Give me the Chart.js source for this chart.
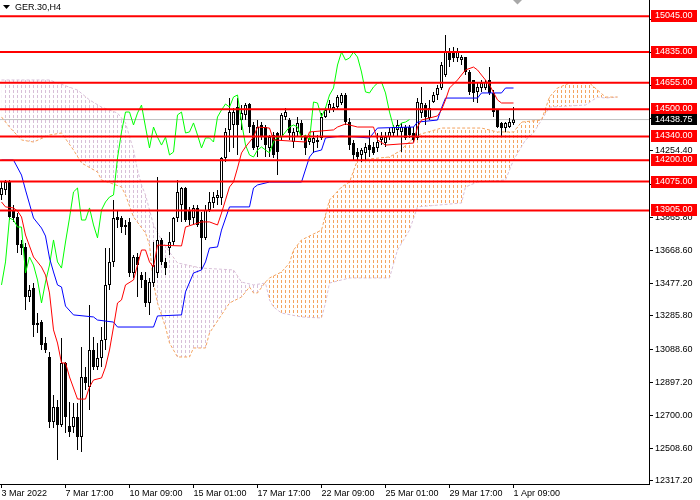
<!DOCTYPE html>
<html>
<head>
<meta charset="utf-8">
<script src="https://cdn.jsdelivr.net/npm/chart.js@4.4.0/dist/chart.umd.min.js"></script>
<style>
  html, body { margin: 0; padding: 0; background: #fff; }
</style>
</head>
<body>
<canvas id="chart" width="700" height="500"></canvas>
<script>
const symbolTitle = "GER.30,H4";

// time axis labels (bar index of each label)
const timeLabelBars = [0, 16, 32, 48, 64, 80, 96, 112, 128];
const timeLabels = ["3 Mar 2022", "7 Mar 17:00", "10 Mar 09:00", "15 Mar 01:00", "17 Mar 17:00",
  "22 Mar 09:00", "25 Mar 01:00", "29 Mar 17:00", "1 Apr 09:00"];

// price axis tick labels
const priceTicks = [12317.2, 12508.6, 12700.0, 12897.2, 13088.6, 13285.8, 13477.2, 13668.6,
  13865.8, 14057.2, 14254.4, 14445.8, 14637.2, 14834.4, 15025.8];

// horizontal support / resistance levels
const levels = [15045, 14835, 14655, 14500, 14340, 14200, 14075, 13905];
const lastPrice = 14438.75;

// H4 candles
const open = [
  13996, 14025, 14072, 13908, 13867, 13708, 13691, 13397, 13450, 13245,
  13250, 13127, 13045, 12664, 12752, 12646, 13010, 12640, 12634, 12693,
  12575, 12928, 12869, 13086, 12986, 13039, 13145, 13468, 13603, 13867,
  13861, 13820, 13838, 13538, 13632, 13526, 13497, 13362, 13479, 13538,
  13732, 13603, 13685, 13720, 13861, 13937, 14037, 13908, 13861, 13920,
  13849, 13744, 13908, 13949, 13978, 13978, 14213, 14378, 14407, 14512,
  14436, 14466, 14530, 14407, 14278, 14407, 14395, 14272, 14348, 14360,
  14336, 14454, 14436, 14307, 14366, 14419, 14336, 14307, 14301, 14319,
  14331, 14454, 14495, 14495, 14512, 14536, 14583, 14424, 14301, 14248,
  14231, 14243, 14289, 14278, 14272, 14319, 14301, 14336, 14360, 14378,
  14366, 14395, 14395, 14360, 14331, 14477, 14524, 14448, 14542, 14583,
  14624, 14700, 14835, 14835, 14800, 14788, 14806, 14718, 14671, 14601,
  14624, 14624, 14671, 14595, 14495, 14419, 14389, 14395, 14419
];
const high = [
  14072, 14084, 14084, 13937, 13890, 13732, 13714, 13468, 13479, 13303,
  13262, 13162, 13074, 12822, 12793, 13157, 13016, 12781, 12775, 12775,
  13104, 12986, 13350, 13162, 13127, 13221, 13685, 13685, 13967, 13908,
  13873, 13849, 13861, 13644, 13656, 13544, 13544, 13509, 13720, 14102,
  13744, 13626, 13779, 13867, 14084, 14043, 14043, 13926, 13937, 13937,
  13896, 13937, 14014, 14014, 14025, 14219, 14389, 14565, 14507, 14565,
  14524, 14536, 14536, 14424, 14436, 14424, 14407, 14348, 14366, 14366,
  14477, 14507, 14448, 14389, 14454, 14436, 14348, 14348, 14366, 14348,
  14477, 14512, 14554, 14536, 14583, 14595, 14595, 14448, 14319, 14272,
  14272, 14301, 14378, 14307, 14360, 14366, 14366, 14389, 14407, 14436,
  14419, 14407, 14407, 14395, 14565, 14630, 14536, 14554, 14601, 14642,
  14777, 14935, 14859, 14865, 14859, 14818, 14806, 14730, 14671, 14653,
  14671, 14671, 14747, 14612, 14495, 14424, 14424, 14448, 14512
];
const low = [
  13967, 13996, 13849, 13838, 13656, 13644, 13321, 13368, 13162, 13186,
  13086, 13069, 12628, 12628, 12440, 12634, 12599, 12575, 12599, 12499,
  12487, 12851, 12734, 12969, 12969, 12986, 13086, 13438, 13573, 13802,
  13773, 13761, 13515, 13509, 13397, 13450, 13339, 13292, 13456, 13509,
  13585, 13526, 13644, 13702, 13838, 13838, 13838, 13820, 13820, 13808,
  13556, 13732, 13896, 13920, 13937, 13937, 14190, 14248, 14272, 14231,
  14378, 14436, 14360, 14260, 14219, 14319, 14219, 14219, 14213, 14113,
  14319, 14436, 14319, 14272, 14336, 14319, 14231, 14289, 14243, 14272,
  14319, 14448, 14477, 14483, 14495, 14524, 14407, 14260, 14201, 14201,
  14190, 14201, 14219, 14231, 14248, 14289, 14278, 14319, 14336, 14336,
  14248, 14319, 14331, 14307, 14319, 14448, 14407, 14436, 14536, 14554,
  14612, 14689, 14747, 14777, 14777, 14759, 14700, 14583, 14542, 14536,
  14601, 14612, 14583, 14454, 14389, 14336, 14366, 14389, 14407
];
const close = [
  14037, 14072, 13867, 13861, 13702, 13685, 13397, 13438, 13233, 13233,
  13115, 13086, 12664, 12752, 12646, 13010, 12693, 12605, 12693, 12575,
  12928, 12892, 13086, 12986, 13039, 13145, 13468, 13603, 13861, 13849,
  13808, 13808, 13538, 13632, 13585, 13497, 13362, 13485, 13585, 13732,
  13603, 13567, 13720, 13861, 14014, 14037, 13849, 13849, 13920, 13820,
  13744, 13908, 13955, 13984, 13996, 14213, 14366, 14483, 14483, 14407,
  14477, 14524, 14395, 14272, 14395, 14336, 14289, 14336, 14231, 14248,
  14466, 14483, 14360, 14366, 14419, 14348, 14272, 14331, 14331, 14307,
  14454, 14495, 14530, 14512, 14571, 14583, 14424, 14289, 14231, 14219,
  14260, 14278, 14260, 14243, 14307, 14336, 14336, 14366, 14395, 14407,
  14395, 14331, 14348, 14319, 14542, 14536, 14454, 14507, 14583, 14624,
  14759, 14835, 14788, 14800, 14835, 14806, 14718, 14601, 14595, 14630,
  14653, 14659, 14595, 14483, 14395, 14389, 14419, 14424, 14438.75
];

// Ichimoku lines (bar index, price)
const tenkanBar = [0, 1, 3, 4, 5, 6, 8, 9, 10, 11, 12, 13, 14, 15, 16, 17, 18, 19, 21, 22, 23, 25, 26, 27, 28, 29, 30, 31, 33, 35,
  36, 37, 38, 39, 45, 46, 50, 52, 54, 55, 56, 57, 58, 59, 60, 61, 63, 64, 67, 68, 76, 77, 83, 84, 86, 89, 93, 94, 96, 103,
  104, 105, 109, 110, 111, 112, 114, 116, 118, 119, 120, 122, 124, 125, 128];
const tenkanVal = [13955, 13926, 13920, 13902, 13867, 13761, 13632, 13603, 13573, 13526, 13421, 13204, 13127, 13010, 13010, 12928,
  12863, 12798, 12798, 12869, 12910, 12922, 12986, 13086, 13221, 13362, 13380, 13468, 13497, 13673,
  13673, 13603, 13573, 13702, 13697, 13808, 13838, 13838, 13820, 13890, 13967, 14043, 14072, 14154, 14243, 14278,
  14336, 14395, 14389, 14319, 14307, 14366, 14378, 14395, 14413, 14395, 14395, 14319, 14289, 14301,
  14395, 14436, 14460, 14495, 14554, 14624, 14671, 14730, 14747, 14730, 14700, 14642, 14554, 14536, 14536];

const kijunBar = [0, 3, 5, 6, 8, 10, 11, 12, 13, 14, 15, 16, 18, 23, 24, 28, 29, 38, 39, 45, 46, 48, 50, 51, 52, 54, 55, 57, 62,
  63, 64, 67, 75, 77, 78, 80, 81, 85, 92, 94, 103, 104, 109, 110, 111, 119, 120, 125, 126, 128];
const kijunVal = [14201, 14201, 14113, 14025, 13861, 13802, 13755, 13626, 13544, 13468, 13456, 13344, 13292, 13280, 13262,
  13250, 13221, 13221, 13286, 13292, 13427, 13538, 13556, 13603, 13685, 13691, 13790, 13926, 13926,
  14037, 14055, 14072, 14072, 14219, 14248, 14260, 14331, 14342, 14331, 14389, 14395, 14424, 14436, 14507, 14565,
  14565, 14595, 14595, 14624, 14624];

const spanABar = [0, 2, 5, 8, 12, 15, 18, 20, 24, 25, 28, 30, 31, 33, 36, 37, 38, 39, 41, 42, 44, 47, 48, 51, 52, 55, 57, 60,
  62, 63, 64, 66, 67, 70, 72, 73, 75, 80, 82, 85, 87, 89, 97, 100, 101, 104, 110, 120, 124, 128, 130, 135, 137,
  139, 142, 147, 149, 151, 154];
const spanAVal = [14454, 14395, 14319, 14307, 14348, 14360, 14260, 14184, 14131, 14084, 14060, 14043, 13996, 13867, 13773,
  13702, 13479, 13362, 13221, 13127, 13045, 13045, 13098, 13098, 13186, 13292, 13362, 13397,
  13456, 13421, 13421, 13485, 13509, 13544, 13597, 13673, 13732, 13790, 13967, 14043, 14072, 14201, 14219, 14260,
  14289, 14348, 14389, 14389, 14366, 14366, 14424, 14436, 14571, 14624, 14653, 14653, 14612, 14571, 14571];

const spanBBar = [0, 12, 19, 22, 25, 29, 31, 33, 34, 35, 36, 37, 38, 40, 42, 44, 50, 58, 60, 63, 66, 67, 68, 70, 75, 80, 81,
  82, 87, 97, 99, 102, 104, 115, 116, 119, 126, 128, 131, 133, 135, 137, 146, 149, 151, 154];
const spanBVal = [14671, 14671, 14612, 14554, 14512, 14477, 14419, 14260, 14143, 14055, 13996, 13908, 13820, 13732, 13661,
  13597, 13567, 13556, 13485, 13468, 13479, 13380, 13339, 13303, 13280, 13274, 13362,
  13479, 13509, 13509, 13673, 13790, 13926, 13949, 14043, 14072, 14084, 14201, 14319, 14360, 14436, 14512, 14524,
  14571, 14565, 14571];

const chikouShift = 26;

// 4 px per bar, bar centre on a half pixel
const xMin = -0.375;
const xMax = 161.875;
const yMin = 12299.5;
const yMax = 15140.6;

Chart.defaults.font.family = "'Liberation Sans', Arial, sans-serif";
Chart.defaults.font.size = 9;
Chart.defaults.color = "#000";

const canvas = document.getElementById("chart");
const ctx = canvas.getContext("2d");

// vertical dotted hatch, one column per bar
function hatch(color) {
  const c = document.createElement("canvas");
  c.width = 4;
  c.height = 5;
  const cx = c.getContext("2d");
  cx.fillStyle = color;
  cx.fillRect(1, 0, 1, 3);
  return ctx.createPattern(c, "repeat");
}

const pts = (xs, ys) => xs.map((x, i) => ({ x: x, y: ys[i] }));
const isUp = (i) => close[i] >= open[i];

const datasets = [];

levels.forEach((lv) => {
  datasets.push({
    type: "line",
    data: [{ x: xMin, y: lv }, { x: xMax, y: lv }],
    borderColor: "#ff0000",
    borderWidth: 2,
    pointRadius: 0,
    order: 0,
  });
});

datasets.push({
  type: "line",
  data: pts(tenkanBar, tenkanVal),
  borderColor: "#ff0000",
  borderWidth: 1,
  pointRadius: 0,
  order: 1,
});
datasets.push({
  type: "line",
  data: pts(kijunBar, kijunVal),
  borderColor: "#0000ff",
  borderWidth: 1,
  pointRadius: 0,
  order: 1,
});
datasets.push({
  type: "line",
  data: close.slice(chikouShift).map((c, i) => ({ x: i, y: c })),
  borderColor: "#00ff00",
  borderWidth: 1,
  pointRadius: 0,
  order: 1,
});

// candle bodies
datasets.push({
  type: "bar",
  data: open.map((o, i) => ({ x: i, y: [o, close[i]] })),
  backgroundColor: open.map((o, i) => (isUp(i) ? "#ffffff" : "#000000")),
  borderColor: "#000000",
  borderWidth: 1,
  borderSkipped: false,
  inflateAmount: 0,
  grouped: false,
  barThickness: 3,
  maxBarThickness: 3,
  order: 2,
});
// wicks
datasets.push({
  type: "bar",
  data: low.map((l, i) => ({ x: i, y: [l, high[i]] })),
  backgroundColor: "#000000",
  borderWidth: 0,
  inflateAmount: 0,
  grouped: false,
  barThickness: 1,
  maxBarThickness: 1,
  order: 3,
});

// cloud
const spanBIndex = datasets.length + 1;
datasets.push({
  type: "line",
  data: pts(spanABar, spanAVal),
  borderColor: "#f4a460",
  backgroundColor: "rgba(0,0,0,0)",
  borderWidth: 1,
  borderDash: [3, 2],
  pointRadius: 0,
  fill: { target: spanBIndex, above: hatch("#f4a460"), below: hatch("#d8bfd8") },
  order: 4,
});
datasets.push({
  type: "line",
  data: pts(spanBBar, spanBVal),
  borderColor: "#d8bfd8",
  borderWidth: 1,
  borderDash: [3, 2],
  pointRadius: 0,
  order: 4,
});

// last price line
datasets.push({
  type: "line",
  data: [{ x: xMin, y: lastPrice }, { x: xMax, y: lastPrice }],
  borderColor: "#c0c0c0",
  borderWidth: 1,
  pointRadius: 0,
  order: 5,
});

const overlay = {
  id: "overlay",
  afterDraw(chart) {
    const g = chart.ctx;
    const ys = chart.scales.y;
    const left = chart.chartArea.right + 2;
    g.save();
    g.font = "9px 'Liberation Sans', Arial, sans-serif";
    g.textBaseline = "middle";
    g.textAlign = "left";
    levels.forEach((lv) => {
      const py = Math.round(ys.getPixelForValue(lv));
      g.fillStyle = "#ff0000";
      g.fillRect(left, py - 6, 46, 12);
      g.fillStyle = "#ffffff";
      g.fillText(lv.toFixed(2), left + 4, py);
    });
    const pp = Math.round(ys.getPixelForValue(lastPrice));
    g.fillStyle = "#000000";
    g.fillRect(left, pp - 6, 46, 11);
    g.fillStyle = "#ffffff";
    g.fillText(lastPrice.toFixed(2), left + 4, pp);

    // title
    g.fillStyle = "#000000";
    g.beginPath();
    g.moveTo(3, 5);
    g.lineTo(10, 5);
    g.lineTo(6.5, 9);
    g.closePath();
    g.fill();
    g.fillText(symbolTitle, 15, 7.5);

    // chart shift marker
    g.fillStyle = "#a8a8a8";
    g.beginPath();
    g.moveTo(513, 0);
    g.lineTo(522, 0);
    g.lineTo(517.5, 4.5);
    g.closePath();
    g.fill();
    g.restore();
  },
};

new Chart(ctx, {
  type: "line",
  data: { datasets: datasets },
  options: {
    responsive: false,
    devicePixelRatio: 1,
    animation: false,
    events: [],
    layout: { padding: 0 },
    plugins: { legend: { display: false }, tooltip: { enabled: false } },
    scales: {
      x: {
        type: "linear",
        min: xMin,
        max: xMax,
        offset: false,
        afterBuildTicks: (s) => {
          s.ticks = timeLabelBars.map((v) => ({ value: v }));
        },
        afterFit: (s) => {
          s.height = 16;
          s.paddingLeft = 0;
          s.paddingRight = 0;
        },
        ticks: {
          autoSkip: false,
          maxRotation: 0,
          align: "start",
          padding: 0,
          callback: (v) => timeLabels[timeLabelBars.indexOf(v)],
        },
        grid: { offset: false, drawOnChartArea: false, drawTicks: true, tickLength: 4, color: "#000" },
        border: { display: true, color: "#000" },
      },
      y: {
        type: "linear",
        position: "right",
        min: yMin,
        max: yMax,
        afterBuildTicks: (s) => {
          s.ticks = priceTicks.map((v) => ({ value: v }));
        },
        afterFit: (s) => {
          s.width = 51;
          s.paddingTop = 0;
          s.paddingBottom = 0;
        },
        ticks: {
          autoSkip: false,
          padding: 2,
          callback: (v) => Number(v).toFixed(2),
        },
        grid: { drawOnChartArea: false, drawTicks: true, tickLength: 4, color: "#000" },
        border: { display: true, color: "#000" },
      },
    },
  },
  plugins: [overlay],
});
</script>
</body>
</html>
